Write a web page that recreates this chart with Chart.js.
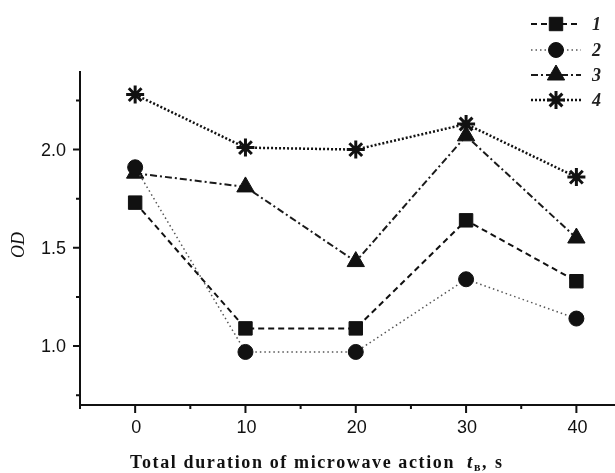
<!DOCTYPE html>
<html>
<head>
<meta charset="utf-8">
<script src="https://cdn.jsdelivr.net/npm/chart.js@4/dist/chart.umd.min.js"></script>
<style>
html,body{margin:0;padding:0;background:#fff;}
#wrap{width:615px;height:473px;position:relative;}
</style>
</head>
<body>
<div id="wrap"><canvas id="c" width="615" height="473"></canvas></div>
<script>
const durations = [0, 10, 20, 30, 40];
const series1 = [1.73, 1.09, 1.09, 1.64, 1.33];
const series2 = [1.91, 0.97, 0.97, 1.34, 1.14];
const series3 = [1.88, 1.81, 1.43, 2.07, 1.55];
const series4 = [2.28, 2.01, 2.00, 2.13, 1.86];
const seriesLabels = ['1', '2', '3', '4'];
const xMajorTicks = [0, 10, 20, 30, 40];
const xMinorTicks = [-5, 5, 15, 25, 35];
const yMajorTicks = [1.0, 1.5, 2.0];
const yMinorTicks = [0.75, 1.25, 1.75, 2.25];
const xTitle = 'Total duration of microwave action';

const toPts = arr => arr.map((v, i) => ({x: durations[i], y: v}));

const styles = [
  {dash: [6, 4], width: 2, color: '#111', point: 'rect', r: 9.5},
  {dash: [1.5, 3], width: 1.5, color: '#555', point: 'circle', r: 7.5},
  {dash: [7, 3, 2, 3], width: 2, color: '#1a1a1a', point: 'triangle', r: 10},
  {dash: [2, 2], width: 2.5, color: '#111', point: 'star', r: 9}
];
const dataArr = [series1, series2, series3, series4];

const datasets = dataArr.map((d, i) => ({
  label: seriesLabels[i],
  data: toPts(d),
  borderColor: styles[i].color,
  borderWidth: styles[i].width,
  borderDash: styles[i].dash,
  pointStyle: styles[i].point,
  pointRadius: styles[i].r,
  pointBackgroundColor: '#111',
  pointBorderColor: '#111',
  pointBorderWidth: styles[i].point === 'star' ? 3 : 1,
  tension: 0,
  fill: false,
  clip: false
}));

const decor = {
  id: 'decor',
  afterDraw(chart) {
    const ctx = chart.ctx;
    const xs = chart.scales.x, ys = chart.scales.y;
    const ca = chart.chartArea;
    ctx.save();
    ctx.strokeStyle = '#111';
    ctx.lineWidth = 2;
    ctx.setLineDash([]);
    ctx.beginPath();
    ctx.moveTo(ca.left, ca.top);
    ctx.lineTo(ca.left, ca.bottom);
    ctx.lineTo(ca.right, ca.bottom);
    ctx.stroke();
    ctx.beginPath();
    xMajorTicks.forEach(v => { const p = xs.getPixelForValue(v); ctx.moveTo(p, ca.bottom); ctx.lineTo(p, ca.bottom + 8); });
    xMinorTicks.forEach(v => { const p = xs.getPixelForValue(v); ctx.moveTo(p, ca.bottom); ctx.lineTo(p, ca.bottom + 4); });
    yMajorTicks.forEach(v => { const p = ys.getPixelForValue(v); ctx.moveTo(ca.left, p); ctx.lineTo(ca.left - 7, p); });
    yMinorTicks.forEach(v => { const p = ys.getPixelForValue(v); ctx.moveTo(ca.left, p); ctx.lineTo(ca.left - 4, p); });
    ctx.stroke();
    ctx.fillStyle = '#111';
    ctx.font = '18px "Liberation Sans", Arial, sans-serif';
    ctx.textAlign = 'center';
    ctx.textBaseline = 'top';
    xMajorTicks.forEach(v => ctx.fillText(String(v), xs.getPixelForValue(v) + 1, ca.bottom + 14));
    ctx.textAlign = 'right';
    ctx.textBaseline = 'middle';
    yMajorTicks.forEach(v => ctx.fillText(v.toFixed(1), ca.left - 14, ys.getPixelForValue(v) + 1));
    // y title
    ctx.save();
    ctx.translate(19, 245);
    ctx.rotate(-Math.PI / 2);
    ctx.font = 'italic 18px "Liberation Serif", "Times New Roman", serif';
    ctx.textAlign = 'center';
    ctx.textBaseline = 'middle';
    ctx.fillText('OD', 0, 0);
    ctx.restore();
    // x title
    ctx.textAlign = 'left';
    ctx.textBaseline = 'alphabetic';
    ctx.font = 'bold 18px "Liberation Serif", "Times New Roman", serif';
    const w0 = ctx.measureText(xTitle).width;
    const sp = Math.max(0, (325 - w0) / xTitle.length);
    if ('letterSpacing' in ctx) ctx.letterSpacing = sp.toFixed(2) + 'px';
    const ty = 468;
    ctx.fillText(xTitle, 130, ty);
    if ('letterSpacing' in ctx) ctx.letterSpacing = '0px';
    ctx.font = 'italic bold 19px "Liberation Serif", "Times New Roman", serif';
    ctx.fillText('t', 467, ty);
    ctx.font = 'bold 12px "Liberation Serif", "Times New Roman", serif';
    ctx.fillText('в', 474, ty + 3);
    ctx.font = 'bold 18px "Liberation Serif", "Times New Roman", serif';
    ctx.fillText(',', 482, ty);
    ctx.fillText('s', 495, ty);
    // legend
    const ly = [24, 50, 75, 100];
    datasets.forEach((ds, i) => {
      const y = ly[i];
      ctx.strokeStyle = styles[i].color;
      ctx.lineWidth = styles[i].width;
      ctx.setLineDash(styles[i].dash);
      ctx.beginPath();
      ctx.moveTo(531, y);
      ctx.lineTo(581, y);
      ctx.stroke();
      ctx.setLineDash([]);
      ctx.fillStyle = '#111';
      ctx.strokeStyle = '#111';
      ctx.lineWidth = styles[i].point === 'star' ? 3 : 1;
      Chart.helpers.drawPoint(ctx, {pointStyle: styles[i].point, radius: styles[i].r, rotation: 0, borderWidth: ctx.lineWidth}, 556, y);
      ctx.font = 'italic bold 18px "Liberation Serif", "Times New Roman", serif';
      ctx.textAlign = 'left';
      ctx.textBaseline = 'middle';
      ctx.fillStyle = '#222';
      ctx.fillText(ds.label, 592, y + 1);
    });
    ctx.restore();
  }
};

new Chart(document.getElementById('c'), {
  type: 'line',
  data: {datasets},
  options: {
    responsive: false,
    animation: false,
    layout: {autoPadding: false, padding: {top: 71, right: 0, left: 0, bottom: 0}},
    plugins: {legend: {display: false}, tooltip: {enabled: false}},
    scales: {
      x: {
        type: 'linear', min: -5, max: 43.5,
        grid: {display: false}, border: {display: false},
        ticks: {display: false},
        afterFit: s => { s.height = 68; }
      },
      y: {
        type: 'linear', min: 0.7, max: 2.4,
        grid: {display: false}, border: {display: false},
        ticks: {display: false},
        afterFit: s => { s.width = 80; }
      }
    }
  },
  plugins: [decor]
});
</script>
</body>
</html>
